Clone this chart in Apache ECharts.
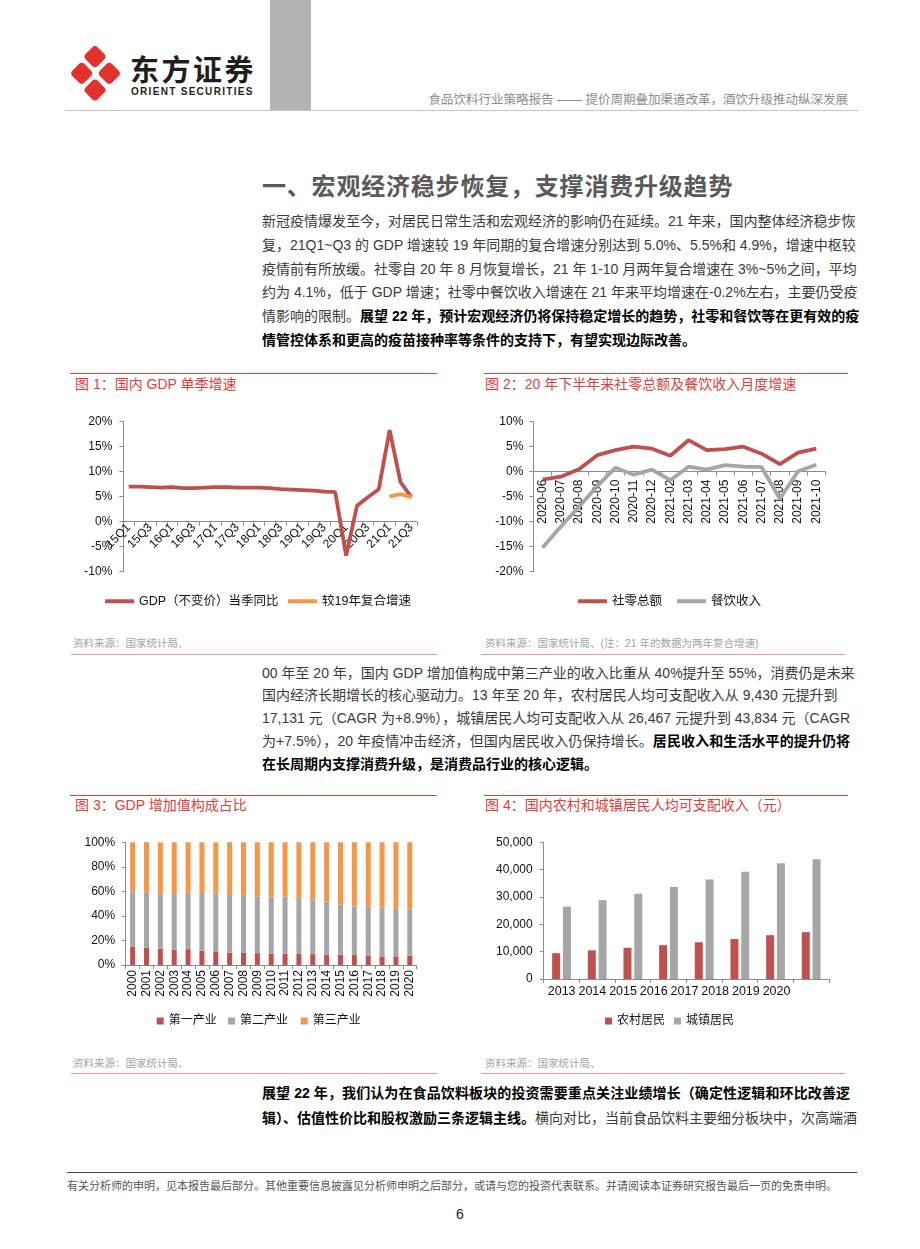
<!DOCTYPE html>
<html><head><meta charset="utf-8">
<script src="https://cdn.jsdelivr.net/npm/echarts/dist/echarts.min.js"></script>
<style>
html,body{margin:0;padding:0;background:#fff;}
body{width:920px;height:1249px;position:relative;overflow:hidden;font-family:"Liberation Sans","Noto Sans CJK SC",sans-serif;}
.abs{position:absolute;}
.para{position:absolute;left:262px;width:588px;font-size:14px;color:#3a3a3a;}
.para div{white-space:nowrap;text-align:justify;text-align-last:justify;}
.para div.last{text-align-last:left;}
.para b{color:#000;}
.ftitle{position:absolute;font-size:14px;color:#d9413b;line-height:16px;white-space:nowrap;}
.redline{position:absolute;height:1px;background:#d9413b;}
.srcline{position:absolute;height:1px;background:#ec9a90;}
.src{position:absolute;font-size:10.5px;color:#a3a3a3;line-height:12px;white-space:nowrap;}
.chart{position:absolute;width:390px;height:220px;}
</style></head>
<body>
<!-- header -->
<svg class="abs" style="left:66px;top:44px" width="60" height="62">
  <g fill="#e2322b">
    <rect x="-8.5" y="-8.5" width="17" height="17" rx="4" transform="translate(29,12.7) rotate(45)"/>
    <rect x="-8.5" y="-8.5" width="17" height="17" rx="4" transform="translate(29,46) rotate(45)"/>
    <rect x="-8.5" y="-8.5" width="17" height="17" rx="4" transform="translate(15.7,29.3) rotate(45)"/>
    <rect x="-8.5" y="-8.5" width="17" height="17" rx="4" transform="translate(43.3,29.3) rotate(45)"/>
  </g>
</svg>
<div class="abs" style="left:130px;top:51px;font-size:29px;font-weight:bold;letter-spacing:2.5px;color:#1e1e1e;line-height:34px;font-family:'Noto Sans CJK SC';">东方证券</div>
<div class="abs" style="left:131px;top:86px;font-size:10px;font-weight:bold;letter-spacing:1.3px;color:#1e1e1e;line-height:12px;white-space:nowrap;">ORIENT SECURITIES</div>
<div class="abs" style="left:270px;top:0;width:41px;height:110px;background:#b3b3b3;"></div>
<div class="abs" style="left:65px;top:110px;width:793px;height:1px;background:#c4c4c4;"></div>
<div class="abs" style="right:72px;top:92px;font-size:12.5px;color:#8c8c8c;line-height:16px;white-space:nowrap;">食品饮料行业策略报告 —— 提价周期叠加渠道改革，酒饮升级推动纵深发展</div>

<div class="abs" style="left:262px;top:173px;font-size:24px;font-weight:bold;color:#5a5a5a;letter-spacing:0.8px;line-height:28px;white-space:nowrap;">一、宏观经济稳步恢复，支撑消费升级趋势</div>

<div class="para" style="top:210px;line-height:23.8px;">
<div>新冠疫情爆发至今，对居民日常生活和宏观经济的影响仍在延续。21 年来，国内整体经济稳步恢</div>
<div>复，21Q1~Q3 的 GDP 增速较 19 年同期的复合增速分别达到 5.0%、5.5%和 4.9%，增速中枢较</div>
<div>疫情前有所放缓。社零自 20 年 8 月恢复增长，21 年 1-10 月两年复合增速在 3%~5%之间，平均</div>
<div>约为 4.1%，低于 GDP 增速；社零中餐饮收入增速在 21 年来平均增速在-0.2%左右，主要仍受疫</div>
<div>情影响的限制。<b>展望 22 年，预计宏观经济仍将保持稳定增长的趋势，社零和餐饮等在更有效的疫</b></div>
<div class="last"><b>情管控体系和更高的疫苗接种率等条件的支持下，有望实现边际改善。</b></div>
</div>

<!-- figure 1/2 titles -->
<div class="redline" style="left:70px;top:373px;width:367px;"></div>
<div class="redline" style="left:484px;top:373px;width:364px;"></div>
<div class="ftitle" style="left:75px;top:376px;">图 1：国内 GDP 单季增速</div>
<div class="ftitle" style="left:485px;top:376px;">图 2：20 年下半年来社零总额及餐饮收入月度增速</div>
<div id="c1" class="chart" style="left:60px;top:400px;"></div>
<div id="c2" class="chart" style="left:470px;top:400px;"></div>
<div class="src" style="left:73px;top:637px;">资料来源：国家统计局、</div>
<div class="src" style="left:485px;top:637px;">资料来源：国家统计局、(注：21 年的数据为两年复合增速)</div>
<div class="srcline" style="left:71px;top:654px;width:366px;"></div>
<div class="srcline" style="left:481px;top:654px;width:364px;"></div>

<div class="para" style="top:661.6px;line-height:22.8px;">
<div>00 年至 20 年，国内 GDP 增加值构成中第三产业的收入比重从 40%提升至 55%，消费仍是未来</div>
<div class="last">国内经济长期增长的核心驱动力。13 年至 20 年，农村居民人均可支配收入从 9,430 元提升到</div>
<div>17,131 元（CAGR 为+8.9%），城镇居民人均可支配收入从 26,467 元提升到 43,834 元（CAGR</div>
<div>为+7.5%），20 年疫情冲击经济，但国内居民收入仍保持增长。<b>居民收入和生活水平的提升仍将</b></div>
<div class="last"><b>在长周期内支撑消费升级，是消费品行业的核心逻辑。</b></div>
</div>

<!-- figure 3/4 -->
<div class="redline" style="left:70px;top:795px;width:367px;"></div>
<div class="redline" style="left:484px;top:795px;width:364px;"></div>
<div class="ftitle" style="left:75px;top:797px;">图 3：GDP 增加值构成占比</div>
<div class="ftitle" style="left:485px;top:797px;">图 4：国内农村和城镇居民人均可支配收入（元）</div>
<div id="c3" class="chart" style="left:60px;top:820px;"></div>
<div id="c4" class="chart" style="left:470px;top:820px;"></div>
<div class="src" style="left:73px;top:1057px;">资料来源：国家统计局、</div>
<div class="src" style="left:485px;top:1057px;">资料来源：国家统计局、</div>
<div class="srcline" style="left:71px;top:1073px;width:366px;"></div>
<div class="srcline" style="left:481px;top:1073px;width:364px;"></div>

<div class="para" style="top:1080.5px;line-height:25px;">
<div><b>展望 22 年，我们认为在食品饮料板块的投资需要重点关注业绩增长（确定性逻辑和环比改善逻</b></div>
<div><b>辑）、估值性价比和股权激励三条逻辑主线。</b>横向对比，当前食品饮料主要细分板块中，次高端酒</div>
</div>

<div class="abs" style="left:67px;top:1172px;width:790px;height:1px;background:#444;"></div>
<div class="abs" style="left:67px;top:1179px;font-size:11px;color:#555;line-height:14px;white-space:nowrap;">有关分析师的申明，见本报告最后部分。其他重要信息披露见分析师申明之后部分，或请与您的投资代表联系。并请阅读本证券研究报告最后一页的免责申明。</div>
<div class="abs" style="left:456px;top:1206px;font-size:14px;color:#222;line-height:16px;">6</div>

<script>
// ---------- data ----------
const quarters = ['15Q1','15Q2','15Q3','15Q4','16Q1','16Q2','16Q3','16Q4','17Q1','17Q2','17Q3','17Q4','18Q1','18Q2','18Q3','18Q4','19Q1','19Q2','19Q3','19Q4','20Q1','20Q2','20Q3','20Q4','21Q1','21Q2','21Q3'];
const gdpYoY = [7.0,7.0,6.9,6.8,6.9,6.7,6.7,6.8,6.9,6.9,6.8,6.8,6.8,6.7,6.5,6.4,6.3,6.2,6.0,5.9,-6.8,3.2,4.9,6.5,18.3,7.9,4.9];
const gdpVs19 = [null,null,null,null,null,null,null,null,null,null,null,null,null,null,null,null,null,null,null,null,null,null,null,null,5.0,5.5,4.9];
const gdpAxisTicks = [-10,20,5];

const months = ['2020-06','2020-07','2020-08','2020-09','2020-10','2020-11','2020-12','2021-02','2021-03','2021-04','2021-05','2021-06','2021-07','2021-08','2021-09','2021-10'];
const retailTotal = [-1.6,-1.0,0.5,3.3,4.3,5.0,4.6,3.2,6.3,4.3,4.5,5.0,3.6,1.5,3.8,4.6];
const cateringIncome = [-15.2,-11.0,-7.0,-2.9,0.8,-0.6,0.4,-1.7,1.0,0.4,1.3,1.0,0.9,-5.4,0.1,1.4];
const retailAxisTicks = [-20,10,5];

const years3 = ['2000','2001','2002','2003','2004','2005','2006','2007','2008','2009','2010','2011','2012','2013','2014','2015','2016','2017','2018','2019','2020'];
const primaryShare = [14.7,14.0,13.3,12.3,12.9,11.6,10.6,10.2,10.2,9.6,9.3,9.2,9.1,8.9,8.6,8.4,8.1,7.5,7.0,7.1,7.7];
const secondaryShare = [45.5,44.8,44.5,45.6,45.9,47.0,47.6,46.9,47.0,46.0,46.5,46.5,45.4,44.2,43.1,40.8,39.6,39.9,39.7,38.6,37.8];
const tertiaryShare = [39.8,41.2,42.2,42.1,41.2,41.4,41.8,42.9,42.8,44.4,44.2,44.3,45.5,46.9,48.3,50.8,52.3,52.6,53.3,54.3,54.5];

const years4 = ['2013','2014','2015','2016','2017','2018','2019','2020'];
const ruralIncome = [9430,10489,11422,12363,13432,14617,16021,17131];
const urbanIncome = [26467,28844,31195,33616,36396,39251,42359,43834];

const names1 = ['GDP（不变价）当季同比','较19年复合增速'];
const names2 = ['社零总额','餐饮收入'];
const names3 = ['第一产业','第二产业','第三产业'];
const names4 = ['农村居民','城镇居民'];

// ---------- style ----------
const RED = '#c0504d', ORANGE = '#f79646', GRAY = '#a6a6a6';
const AX = '#8c8c8c';
const FONT = 'Liberation Sans, Noto Sans CJK SC, sans-serif';
const lab = {fontFamily: FONT, fontSize: 12, color: '#111'};
const legText = {fontFamily: FONT, fontSize: 12.5, color: '#111'};
const PLOT_H = 150;

function yAxisPct(t, margin){
  return {type:'value', min:t[0], max:t[1], interval:t[2],
    axisLine:{show:true, lineStyle:{color:AX, width:1}},
    axisTick:{show:true, length:4, lineStyle:{color:AX}},
    splitLine:{show:false},
    axisLabel:Object.assign({formatter:'{value}%', margin:margin}, lab)};
}
// x axis drawn across the zero line (Excel style): offset from the bottom by zero's position
function zeroOffset(t){ return -PLOT_H * (0 - t[0]) / (t[1] - t[0]); }
function lineLegend(name, left, color){
  return {data:[{name:name, itemStyle:{color:color}}], left:left, top:195, icon:'rect', itemWidth:29, itemHeight:4,
    textStyle:legText, padding:0, selectedMode:false};
}
function lineSeries(name, data, color){
  return {name:name, type:'line', data:data, symbol:'none', smooth:false, connectNulls:false,
    lineStyle:{width:3.8, color:color}, itemStyle:{color:color}, z:3};
}

// chart 1
const c1 = echarts.init(document.getElementById('c1'), null, {renderer:'canvas'});
c1.setOption({
  animation:false,
  grid:{left:63.3, top:21.7, width:293.5, height:PLOT_H, containLabel:false, outerBoundsMode:'none'},
  legend:[lineLegend(names1[0], 45, RED), lineLegend(names1[1], 228, ORANGE)],
  xAxis:{type:'category', data:quarters, boundaryGap:true, position:'bottom', offset:zeroOffset(gdpAxisTicks),
    axisLine:{onZero:false, lineStyle:{color:AX}},
    axisTick:{show:true, interval:0, length:4, lineStyle:{color:AX}},
    axisLabel:Object.assign({interval:1, rotate:45, margin:4}, lab)},
  yAxis:yAxisPct(gdpAxisTicks, 11),
  series:[lineSeries(names1[0], gdpYoY, RED), lineSeries(names1[1], gdpVs19, ORANGE)]
});

// chart 2
const c2 = echarts.init(document.getElementById('c2'), null, {renderer:'canvas'});
c2.setOption({
  animation:false,
  grid:{left:63.3, top:21.7, width:292.2, height:PLOT_H, containLabel:false, outerBoundsMode:'none'},
  legend:[lineLegend(names2[0], 108, RED), lineLegend(names2[1], 207, GRAY)],
  xAxis:{type:'category', data:months, boundaryGap:true, position:'bottom', offset:zeroOffset(retailAxisTicks),
    axisLine:{onZero:false, lineStyle:{color:AX}},
    axisTick:{show:true, interval:0, length:4, lineStyle:{color:AX}},
    axisLabel:Object.assign({interval:0, rotate:90, margin:8}, lab)},
  yAxis:yAxisPct(retailAxisTicks, 10),
  series:[lineSeries(names2[0], retailTotal, RED), lineSeries(names2[1], cateringIncome, GRAY)]
});

// chart 3
const c3 = echarts.init(document.getElementById('c3'), null, {renderer:'canvas'});
const sqLegend = (name, left, color) => ({data:[{name:name, itemStyle:{color:color}}], left:left, top:195, icon:'rect',
  itemWidth:7, itemHeight:7, itemGap:0, textStyle:Object.assign({}, legText, {fontSize:12}), padding:0, selectedMode:false});
c3.setOption({
  animation:false,
  grid:{left:65.7, top:22.3, width:291, height:122.7, containLabel:false, outerBoundsMode:'none'},
  legend:[sqLegend(names3[0], 96.7, RED), sqLegend(names3[1], 168, GRAY), sqLegend(names3[2], 240.7, ORANGE)],
  xAxis:{type:'category', data:years3, boundaryGap:true,
    axisLine:{lineStyle:{color:AX}},
    axisTick:{show:true, interval:0, length:4, lineStyle:{color:AX}},
    axisLabel:Object.assign({interval:0, rotate:90, margin:5}, lab)},
  yAxis:yAxisPct([0,100,20], 10.5),
  series:[
    {name:names3[0], type:'bar', stack:'s', data:primaryShare, barWidth:5, itemStyle:{color:RED}},
    {name:names3[1], type:'bar', stack:'s', data:secondaryShare, barWidth:5, itemStyle:{color:GRAY}},
    {name:names3[2], type:'bar', stack:'s', data:tertiaryShare, barWidth:5, itemStyle:{color:ORANGE}}
  ]
});

// chart 4
const c4 = echarts.init(document.getElementById('c4'), null, {renderer:'canvas'});
c4.setOption({
  animation:false,
  grid:[
    {left:73.7, top:22.3, width:285.3, height:136.7, containLabel:false, outerBoundsMode:'none'},
    {left:76.3, top:22.3, width:245.6, height:136.7, containLabel:false, outerBoundsMode:'none'}
  ],
  legend:[sqLegend(names4[0], 135, RED), sqLegend(names4[1], 204, GRAY)],
  xAxis:[
    {type:'category', data:years4, gridIndex:0, boundaryGap:true,
      axisLine:{lineStyle:{color:AX}},
      axisTick:{show:true, interval:0, length:4, lineStyle:{color:AX}},
      axisLabel:{show:false}},
    {type:'category', data:years4, gridIndex:1, boundaryGap:true,
      axisLine:{show:false}, axisTick:{show:false},
      axisLabel:Object.assign({interval:0, margin:6}, lab, {fontSize:12.5})}
  ],
  yAxis:[
    {type:'value', gridIndex:0, min:0, max:50000, interval:10000,
      axisLine:{show:true, lineStyle:{color:AX}},
      axisTick:{show:true, length:4, lineStyle:{color:AX}},
      splitLine:{show:false},
      axisLabel:Object.assign({margin:11, formatter:v=>v.toLocaleString('en-US')}, lab)},
    {type:'value', gridIndex:1, min:0, max:50000, show:false, splitLine:{show:false}}
  ],
  series:[
    {name:names4[0], type:'bar', data:ruralIncome, barWidth:8, barGap:'35%', itemStyle:{color:RED}},
    {name:names4[1], type:'bar', data:urbanIncome, barWidth:8, barGap:'35%', itemStyle:{color:GRAY}}
  ]
});
</script>
</body></html>
